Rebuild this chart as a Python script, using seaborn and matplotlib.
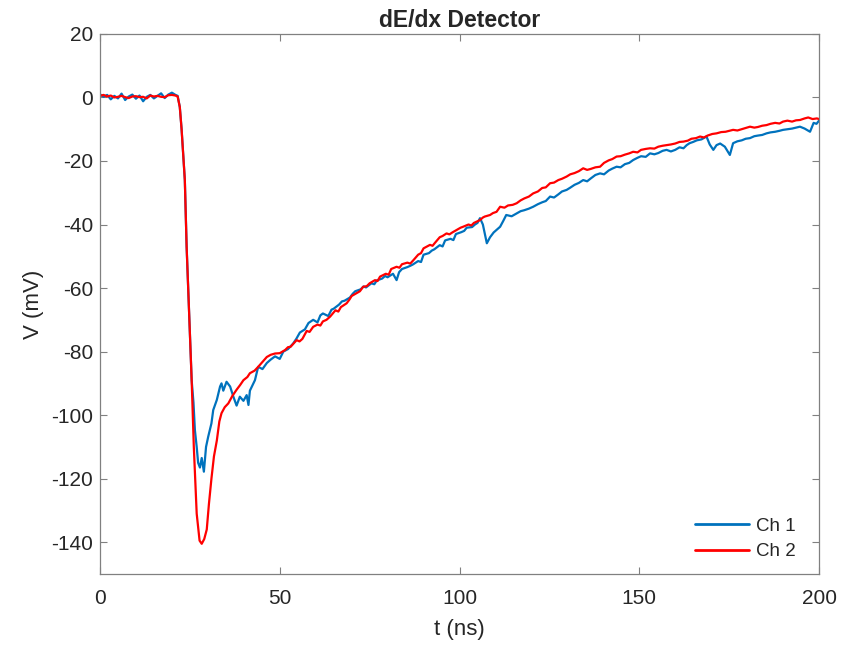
import numpy as np
import pandas as pd
import matplotlib
matplotlib.use('Agg')
import matplotlib.pyplot as plt
import seaborn as sns

# Ch 1 (blue) trace
t_ch1 = [0, 1, 2, 3, 4, 5, 6, 7, 8, 9, 10, 11, 12, 13, 14, 15, 16, 17, 18, 19, 20, 21, 21.6, 22.2,
         22.7, 23.6, 24.1, 24.8, 25.5, 26.0, 26.4, 26.9, 27.3, 27.8, 28.3, 28.9, 29.5, 30.1, 31.0, 31.5,
         32.5, 33.4, 33.8, 34.3, 35.2, 36.2, 37.1, 38.0, 38.9, 39.9, 40.8, 41.3, 41.7, 43.1, 44.0, 45.2,
         46.4, 47.5, 48.7, 50.0, 51.0, 52.3, 53.7, 54.6, 55.6, 57.0, 58.0, 59.3, 60.5, 61.3, 62.0, 63.5,
         64.4, 65.0, 66.5, 67.3, 68.0, 69.5, 70.3, 71.0, 72.5, 73.3, 74.0, 75.5, 76.3, 77.0, 78.5, 79.3,
         80.0, 81.5, 82.5, 83.2, 84.0, 85.5, 86.3, 87.0, 88.5, 89.3, 90.0, 91.5, 92.3, 93.0, 94.5, 95.3,
         96.0, 97.5, 98.3, 99.0, 100.5, 101.3, 102.0, 103.5, 104.3, 105.0, 105.7, 106.5, 107.6, 108.5,
         109.5, 110.3, 111.3, 112.2, 113.0, 114.5, 115.9, 117.0, 118.0, 119.3, 120.5, 121.8, 123.0, 124.0,
         125.2, 126.3, 127.5, 128.5, 129.8, 130.8, 132.0, 133.2, 134.4, 135.5, 136.5, 137.8, 139.1, 140.2,
         141.5, 142.5, 143.7, 144.8, 146.0, 147.2, 148.3, 149.5, 150.5, 151.8, 153.0, 154.2, 155.3, 156.5,
         157.6, 158.8, 160.0, 161.2, 162.3, 163.2, 164.0, 165.0, 166.0, 167.3, 168.7, 169.6, 170.6, 171.5,
         172.5, 173.8, 175.2, 176.1, 177.3, 178.5, 179.6, 180.8, 182.0, 183.0, 184.2, 185.4, 186.5, 187.8,
         189.0, 190.0, 191.2, 192.5, 193.6, 194.7, 196.0, 197.5, 198.5, 199.3, 200.0]
v_ch1 = [1.0, 0.2, 0.8, -0.6, 0.5, -0.3, 1.2, -0.8, 0.3, 0.9, -0.4, 0.6, -1.2, 0.2, 0.8, -0.3, 0.5, 1.3, -0.2, 0.9, 1.5, 0.8, 0.5, -3.0,
         -10.0, -26.0, -47.0, -68.0, -89.0, -96.0, -104.7, -110.0, -115.0, -116.5, -113.5, -117.8, -110.0, -106.8, -102.6, -98.4,
         -95.2, -91.0, -90.0, -92.3, -89.5, -91.0, -94.2, -97.0, -94.2, -95.5, -93.7, -96.8, -92.3, -89.0, -84.8, -85.5,
         -83.6, -82.5, -81.5, -82.3, -80.0, -79.2, -77.5, -76.0, -74.0, -73.0, -71.0, -70.0, -70.8, -68.6, -68.0, -68.8,
         -66.8, -66.5, -65.2, -64.2, -64.0, -63.0, -61.8, -61.0, -60.4, -59.5, -59.8, -58.5, -58.8, -57.6, -57.0, -56.2,
         -56.6, -55.5, -57.5, -55.0, -54.0, -53.4, -53.0, -52.6, -51.5, -51.8, -49.5, -49.0, -48.2, -47.8, -46.5, -46.9,
         -45.0, -44.5, -44.9, -43.0, -42.4, -42.0, -41.0, -40.8, -40.0, -39.5, -38.0, -40.0, -45.9, -44.0,
         -42.5, -41.7, -40.7, -38.8, -37.0, -37.4, -36.5, -35.8, -35.5, -35.0, -34.4, -33.6, -33.0, -32.6,
         -31.2, -31.5, -30.5, -29.6, -29.1, -28.4, -27.5, -26.9, -26.0, -26.4, -25.5, -24.4, -23.9, -24.2,
         -23.0, -22.4, -21.8, -22.0, -21.0, -20.6, -19.7, -19.0, -18.5, -18.7, -17.6, -17.9, -17.5, -16.8,
         -16.5, -17.0, -16.5, -15.7, -16.0, -15.0, -14.4, -14.0, -13.5, -13.2, -12.3, -14.8, -16.5, -15.0,
         -14.5, -15.5, -18.1, -14.4, -13.8, -13.5, -13.0, -12.8, -12.2, -12.0, -11.8, -11.3, -11.0, -10.8,
         -10.5, -10.2, -10.0, -9.8, -9.5, -9.2, -9.8, -10.8, -8.0, -8.3, -7.3]

# Ch 2 (red) trace
t_ch2 = [0, 1, 2, 3, 4, 5, 6, 7, 8, 9, 10, 11, 12, 13, 14, 15, 16, 17, 18, 19, 20, 21, 21.6, 22.2,
         22.7, 23.6, 24.1, 24.8, 25.5, 26.1, 26.9, 27.7, 28.3, 29.0, 29.7, 30.3, 31.0, 31.7, 32.5, 33.2,
         33.8, 34.7, 35.7, 36.8, 38.0, 39.0, 39.9, 41.0, 41.7, 43.0, 44.0, 45.0, 46.4, 47.5, 48.7, 50.0,
         51.5, 52.3, 53.0, 54.7, 55.5, 56.3, 57.5, 58.3, 59.3, 60.5, 61.3, 62.0, 63.0, 64.0, 65.5, 66.3,
         67.0, 68.6, 69.4, 70.0, 71.5, 72.3, 73.2, 74.2, 75.0, 76.5, 77.2, 77.9, 79.5, 80.3, 81.0, 82.5,
         83.3, 84.0, 85.5, 86.3, 87.2, 88.5, 89.3, 90.0, 91.8, 92.5, 93.0, 94.5, 95.3, 96.4, 97.2, 98.0,
         99.5, 100.3, 101.0, 102.5, 103.3, 104.0, 105.7, 106.5, 107.0, 108.5, 109.3, 110.3, 111.3, 112.5,
         113.5, 114.8, 115.9, 117.0, 118.0, 119.3, 120.5, 121.8, 123.0, 124.0, 125.2, 126.3, 127.5, 128.5,
         129.8, 130.8, 132.0, 133.2, 134.4, 135.5, 136.5, 137.8, 139.1, 140.2, 141.5, 142.5, 143.7, 144.8,
         146.0, 147.2, 148.3, 149.5, 150.5, 151.8, 153.0, 154.2, 155.3, 156.5, 157.6, 158.8, 160.0, 161.2,
         162.3, 163.5, 164.5, 165.8, 166.9, 168.0, 169.0, 170.3, 171.5, 172.8, 174.0, 175.0, 176.1, 177.3,
         178.5, 179.6, 180.8, 182.0, 183.0, 184.2, 185.4, 186.5, 187.8, 189.0, 190.0, 191.2, 192.5, 193.6,
         194.7, 196.0, 197.0, 198.2, 199.4, 200.0]
v_ch2 = [0.5, 0.8, 0.3, 0.6, 0.0, 0.2, 0.5, 0.1, -0.2, 0.3, 0.4, 0.1, 0.2, -0.3, 0.6, 0.3, 0.5, 0.2, 0.1, 0.7, 0.8, 0.6, 0.3, -3.0,
         -10.0, -26.0, -47.0, -68.0, -89.0, -110.0, -131.0, -139.5, -140.5, -139.0, -136.0, -128.0, -120.0, -113.0, -108.0, -102.0,
         -99.4, -97.5, -96.3, -94.0, -92.0, -90.5, -89.0, -88.0, -86.8, -86.0, -84.8, -83.5, -81.7, -81.0, -80.6, -80.5,
         -79.5, -78.6, -78.5, -76.4, -76.8, -76.0, -73.5, -73.8, -72.2, -71.5, -71.8, -70.5, -70.0, -69.0, -67.0, -67.4,
         -66.0, -64.8, -63.6, -62.5, -61.5, -61.0, -59.6, -59.4, -58.5, -57.5, -57.8, -56.4, -55.5, -55.8, -54.0, -53.3,
         -53.6, -52.5, -52.0, -52.3, -51.2, -49.5, -49.0, -47.5, -46.4, -46.7, -46.0, -44.0, -43.6, -42.8, -43.1, -42.5,
         -41.5, -41.0, -40.7, -40.0, -40.3, -39.5, -38.6, -37.8, -37.5, -37.0, -36.4, -36.0, -34.4, -34.7,
         -34.0, -33.8, -33.3, -32.4, -31.8, -31.2, -30.2, -29.6, -28.5, -28.3, -27.0, -26.8, -26.0, -25.6,
         -24.9, -24.2, -23.8, -23.2, -22.3, -22.8, -22.5, -22.0, -21.8, -20.6, -19.8, -19.4, -18.6, -18.5,
         -18.0, -17.6, -17.1, -17.3, -16.5, -16.2, -16.0, -16.1, -15.5, -15.2, -15.0, -14.8, -14.5, -14.0,
         -13.9, -13.6, -13.0, -12.8, -12.3, -12.6, -12.0, -11.5, -11.3, -10.9, -10.8, -10.5, -10.2, -10.4,
         -10.0, -9.6, -9.2, -9.5, -9.3, -8.9, -8.7, -8.3, -8.0, -8.2, -7.6, -7.3, -7.6, -7.2,
         -7.1, -6.6, -6.3, -6.8, -6.6, -6.8]

channels = ['Ch 1', 'Ch 2']
colors = {'Ch 1': '#0072BD', 'Ch 2': '#FF0000'}

df = pd.concat([
    pd.DataFrame({'t': t_ch1, 'V': v_ch1, 'ch': 'Ch 1'}),
    pd.DataFrame({'t': t_ch2, 'V': v_ch2, 'ch': 'Ch 2'}),
], ignore_index=True)

sns.set_style('white')
plt.rcParams['font.family'] = ['Liberation Sans', 'DejaVu Sans']
plt.rcParams['axes.unicode_minus'] = False  # MATLAB-style hyphen minus

fig = plt.figure(figsize=(8.56, 6.46), dpi=100)
ax = fig.add_axes([0.1168, 0.1115, 0.84, 0.836])

sns.lineplot(data=df, x='t', y='V', hue='ch', hue_order=channels, palette=colors,
             estimator=None, sort=False, linewidth=1.6, ax=ax)

ax.set_xlim(0, 200)
ax.set_ylim(-150, 20)
ax.set_xticks(np.arange(0, 201, 50))
ax.set_yticks(np.arange(-140, 21, 20))
ax.tick_params(direction='in', length=5, width=0.8, color='#808080', labelcolor='#262626',
               labelsize=15, top=True, right=True, bottom=True, left=True, pad=5)
ax.tick_params(axis='x', pad=11)
for s in ax.spines.values():
    s.set_color('#808080')
    s.set_linewidth(0.9)

ax.set_xlabel('t (ns)', fontsize=16, color='#262626', labelpad=8)
ax.set_ylabel('V (mV)', fontsize=16, color='#262626', labelpad=5)
ax.set_title('dE/dx Detector', fontsize=16.5, fontweight='bold', pad=5)

leg = ax.legend(loc='lower right', bbox_to_anchor=(0.9774, 0.0116), frameon=False,
                fontsize=13.5, handlelength=2.9, handletextpad=0.35, borderaxespad=0,
                labelspacing=0.45)
for line in leg.get_lines():
    line.set_linewidth(2)
for txt in leg.get_texts():
    txt.set_color('#262626')

fig.savefig('out.png', dpi=100)
